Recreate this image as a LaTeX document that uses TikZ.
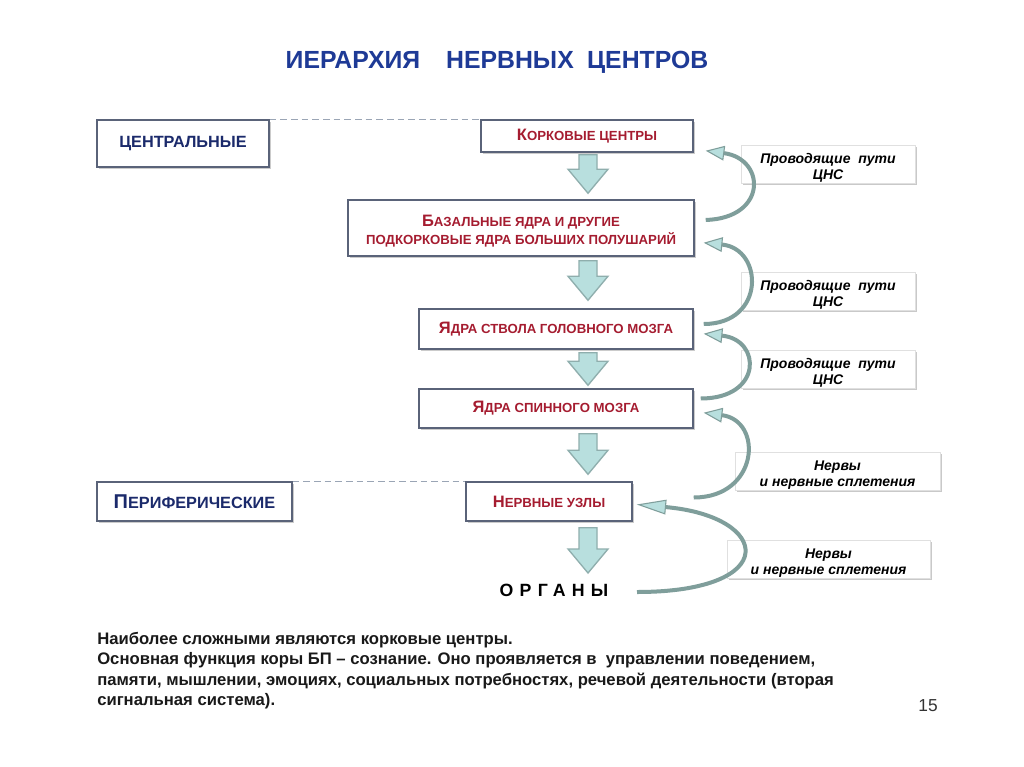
\documentclass[tikz,border=0pt]{standalone}
\usepackage{fontspec}
\setmainfont{Liberation Sans}
\usetikzlibrary{calc,arrows.meta,shadows}
\definecolor{titleblue}{HTML}{1E3A96}
\definecolor{navy}{HTML}{1B2A6B}
\definecolor{darkred}{HTML}{A51C30}
\definecolor{boxborder}{HTML}{5A6379}
\definecolor{arrowfill}{HTML}{B8DFDE}
\definecolor{arrowline}{HTML}{8FAEAD}
\definecolor{curvecol}{HTML}{7F9E9B}
\definecolor{dashcol}{HTML}{9AA5B5}
\newcommand\smc[2]{{\fontsize{12.4}{13.5}\selectfont #1}{\fontsize{9.9}{13.5}\selectfont #2}}
\newcommand\barrow[2]{\draw[blockarrow] let \p1=(#1), \p2=(#2) in
  (\x1-6.75pt,\y1) -- (\x1+6.75pt,\y1) -- (\x1+6.75pt,\y2+18pt) -- (\x1+15pt,\y2+18pt)
  -- (\x1,\y2) -- (\x1-15pt,\y2+18pt) -- (\x1-6.75pt,\y2+18pt) -- cycle;}
\tikzset{
  mainbox/.style={draw=boxborder, line width=1.1pt, fill=white, inner sep=0pt,
    drop shadow={shadow xshift=1.5pt, shadow yshift=-1.5pt, fill=black!40, opacity=0.5}},
  redbox/.style={mainbox, text=darkred, font=\bfseries},
  bluebox/.style={mainbox, text=navy, font=\bfseries},
  notebox/.style={draw=black!12, line width=0.6pt, fill=white, inner sep=0pt,
    minimum height=28.5pt, align=center,
    font=\fontsize{10.5}{12}\selectfont\bfseries\itshape,
    drop shadow={shadow xshift=1.5pt, shadow yshift=-1.5pt, fill=black!35, opacity=0.6}},
  blockarrow/.style={draw=arrowline, line width=1pt, fill=arrowfill, line join=miter},
  curv/.style={draw=curvecol, line width=3pt,
    -{Triangle[length=14pt,width=11pt,line width=0.8pt,fill=arrowfill,color=curvecol]}},
  curvlong/.style={draw=curvecol, line width=3pt,
    -{Triangle[length=22pt,width=11pt,line width=0.8pt,fill=arrowfill,color=curvecol]}},
  dashlink/.style={draw=dashcol, line width=1pt, dash pattern=on 5pt off 3pt},
}
\begin{document}
\begin{tikzpicture}[x=0.75pt,y=-0.75pt]
\path[use as bounding box, fill=white] (0,0) rectangle (1024,767);

% title
\node[anchor=base, text=titleblue, font=\fontsize{18.6}{21}\selectfont\bfseries] (title) at (497,69)
  {ИЕРАРХИЯ\hspace{19.5pt}НЕРВНЫХ\hspace{10pt}ЦЕНТРОВ};

% left category boxes
\node[bluebox, minimum width=129pt, minimum height=35.25pt] (cen) at (183,143.5)
  {\fontsize{12.2}{14}\selectfont ЦЕНТРАЛЬНЫЕ};
\node[bluebox, minimum width=146.25pt, minimum height=29.25pt] (per) at (194.5,501.5)
  {{\fontsize{15}{15}\selectfont П}{\fontsize{12.2}{14}\selectfont ЕРИФЕРИЧЕСКИЕ}};

% main hierarchy boxes
\node[redbox, minimum width=159pt, minimum height=24pt] (kor) at (587,136)
  {\smc{К}{ОРКОВЫЕ ЦЕНТРЫ}};
\node[redbox, minimum width=259.5pt, minimum height=42pt, align=center,
  font=\fontsize{9.9}{14}\selectfont\bfseries] (bas) at (521,228)
  {\rule{0pt}{13pt}\smc{Б}{АЗАЛЬНЫЕ ЯДРА И ДРУГИЕ}\\ПОДКОРКОВЫЕ ЯДРА БОЛЬШИХ ПОЛУШАРИЙ};
\node[redbox, minimum width=205.5pt, minimum height=30pt] (stv) at (556,329)
  {\smc{Я}{ДРА СТВОЛА ГОЛОВНОГО МОЗГА}};
\node[redbox, minimum width=205.5pt, minimum height=29.25pt] (spin) at (556,408.5)
  {\smc{Я}{ДРА СПИННОГО МОЗГА}};
\node[redbox, minimum width=124.5pt, minimum height=29.25pt] (uzl) at (549,501.5)
  {\smc{Н}{ЕРВНЫЕ УЗЛЫ}};
\node[font=\fontsize{13.3}{15}\selectfont\bfseries\addfontfeature{LetterSpace=35}] (org) at (554,590)
  {ОРГАНЫ};

% dashed links
\draw[dashlink] (cen.north east) -- (kor.north west);
\draw[dashlink] (per.north east) -- (uzl.north west);

% block arrows
\coordinate (ax) at (588,0);
\barrow{$(ax |- kor.south)+(0,2)$}{$(ax |- bas.north)+(0,-6)$}
\barrow{$(ax |- bas.south)+(0,4)$}{$(ax |- stv.north)+(0,-8)$}
\barrow{$(ax |- stv.south)+(0,3)$}{$(ax |- spin.north)+(0,-3)$}
\barrow{$(ax |- spin.south)+(0,5)$}{$(ax |- uzl.north)+(0,-7)$}
\barrow{$(ax |- uzl.south)+(0,6)$}{$(ax |- org.north)+(0,-6)$}

% note boxes
\node[notebox, minimum width=130.5pt] (n1) at (828,164) {\rule{0pt}{13pt}Проводящие\ \ пути\\ЦНС};
\node[notebox, minimum width=130.5pt] (n2) at (828,291) {\rule{0pt}{13pt}Проводящие\ \ пути\\ЦНС};
\node[notebox, minimum width=130.5pt] (n3) at (828,369) {\rule{0pt}{13pt}Проводящие\ \ пути\\ЦНС};
\node[notebox, minimum width=153.75pt] (n4) at (837.5,471) {\rule{0pt}{13pt}Нервы\\и нервные сплетения};
\node[notebox, minimum width=152.25pt] (n5) at (828.5,559) {\rule{0pt}{13pt}Нервы\\и нервные сплетения};

% curved feedback arrows
\draw[curv] ($(bas.east)+(11,-8)$) .. controls +(62,-2) and +(60,8) .. ($(kor.south east)+(12,-2)$);
\draw[curv] ($(stv.east)+(10,-5)$) .. controls +(62,0) and +(60,6) .. ($(bas.south east)+(9,-14)$);
\draw[curv] ($(spin.east)+(7,-10)$) .. controls +(62,0) and +(58,6) .. ($(stv.south east)+(10,-16)$);
\draw[curv] ($(uzl.east)+(61,-4)$) .. controls +(65,0) and +(60,8) .. ($(spin.south east)+(10,-16)$);
\draw[curvlong] ($(org.east)+(24,2)$) .. controls +(145,0) and +(135,12) .. ($(uzl.east)+(4,3)$);

% explanatory text
\node[anchor=north west, inner sep=0pt, align=left,
  font=\fontsize{12.5}{15.2}\selectfont\bfseries, text=black!90] (txt) at (97,632)
  {Наиболее сложными являются корковые центры.\\
   Основная функция коры БП – сознание. Оно проявляется в\ \ управлении поведением,\\
   памяти, мышлении, эмоциях, социальных потребностях, речевой деятельности (вторая\\
   сигнальная система).};
\node[font=\fontsize{13}{15}\selectfont, text=black!80] (pg) at (928,706) {15};
\end{tikzpicture}
\end{document}
